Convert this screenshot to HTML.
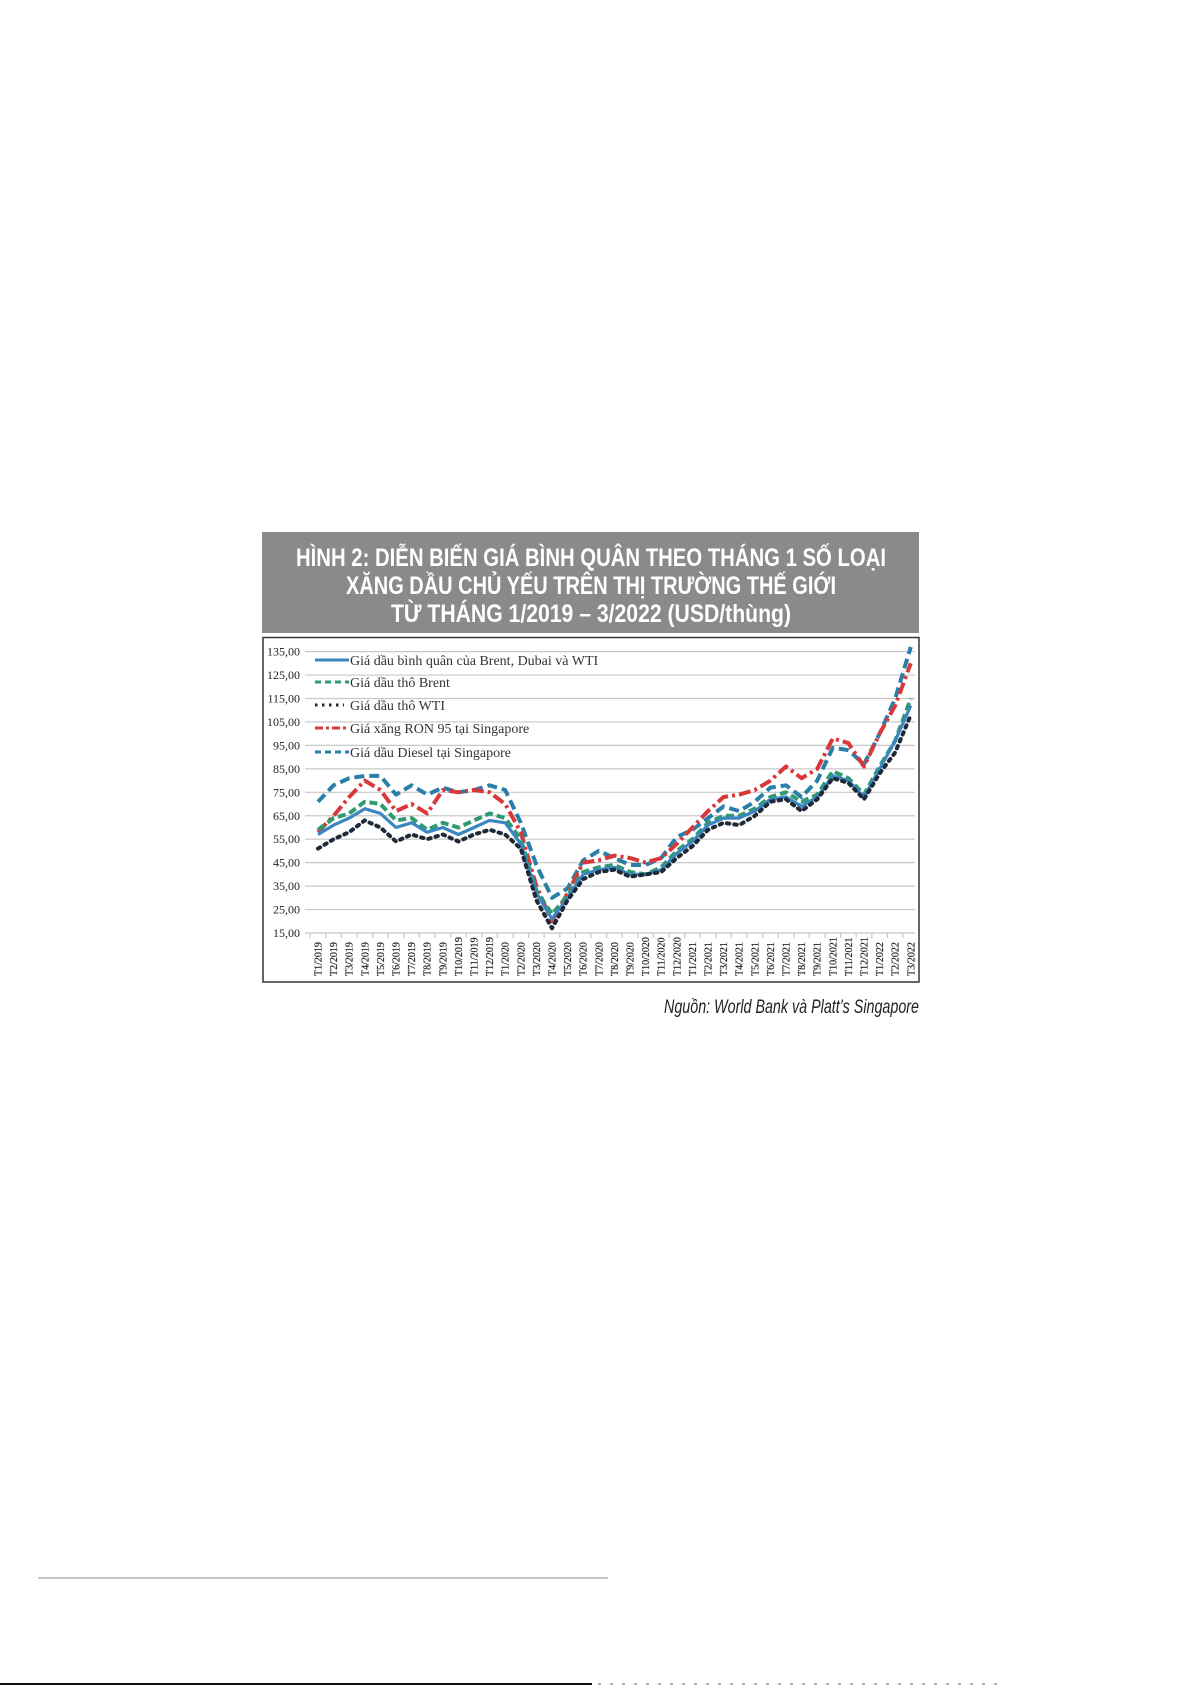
<!DOCTYPE html>
<html><head><meta charset="utf-8"><style>
html,body{margin:0;padding:0;background:#fff;}
body{width:1191px;height:1685px;position:relative;overflow:hidden;}
svg{position:absolute;left:0;top:0;}
</style></head><body>
<svg id="s" width="1191" height="1685" viewBox="0 0 1191 1685" xmlns="http://www.w3.org/2000/svg">
<rect x="262" y="532" width="657" height="101" fill="#8a8a8a"/>
<g font-family="'Liberation Sans Narrow','Liberation Sans',sans-serif" font-weight="bold" font-size="25" fill="#fff" text-anchor="middle">
<text x="591" y="566" textLength="590" lengthAdjust="spacingAndGlyphs">HÌNH 2: DIỄN BIẾN GIÁ BÌNH QUÂN THEO THÁNG 1 SỐ LOẠI</text>
<text x="591" y="594" textLength="490" lengthAdjust="spacingAndGlyphs">XĂNG DẦU CHỦ YẾU TRÊN THỊ TRƯỜNG THẾ GIỚI</text>
<text x="591" y="622" textLength="400" lengthAdjust="spacingAndGlyphs">TỪ THÁNG 1/2019 – 3/2022 (USD/thùng)</text>
</g>
<rect x="263" y="637.5" width="656" height="344.5" fill="#fff" stroke="#333" stroke-width="1.5"/>
<g id="grid" stroke="#c8c8c8" stroke-width="1.2"></g>
<g id="ylab" font-family="'Liberation Serif',serif" font-size="12" fill="#222" text-anchor="end"></g>
<g id="xlab" font-family="'Liberation Serif',serif" font-size="10" fill="#222" stroke="#222" stroke-width="0.2"></g>
<g id="series" fill="none"></g>
<g font-family="'Liberation Serif',serif" font-size="14" fill="#333">
<line x1="315" y1="660" x2="349" y2="660" stroke="#3a86c0" stroke-width="3"/>
<text x="350" y="665">Giá dầu bình quân của  Brent, Dubai và WTI</text>
<line x1="315" y1="682" x2="349" y2="682" stroke="#2e9a6e" stroke-width="3" stroke-dasharray="6,4"/>
<text x="350" y="687">Giá dầu thô Brent</text>
<line x1="315" y1="705" x2="344" y2="705" stroke="#1f2a38" stroke-width="3" stroke-dasharray="2.5,4.5"/>
<text x="350" y="710">Giá dầu thô WTI</text>
<line x1="315" y1="728" x2="349" y2="728" stroke="#d8383a" stroke-width="3" stroke-dasharray="8,3,3,3"/>
<text x="350" y="733">Giá xăng RON 95 tại Singapore</text>
<line x1="315" y1="752" x2="349" y2="752" stroke="#2a7fa8" stroke-width="3" stroke-dasharray="6,4"/>
<text x="350" y="757">Giá dầu Diesel tại Singapore</text>
</g>
<text x="919" y="1013" text-anchor="end" font-family="'Liberation Sans Narrow','Liberation Sans',sans-serif" font-style="italic" font-size="19" fill="#222" textLength="255" lengthAdjust="spacingAndGlyphs">Nguồn: World Bank và Platt’s Singapore</text>
<line x1="38" y1="1578" x2="608" y2="1578" stroke="#888" stroke-width="1"/>
<line x1="0" y1="1684" x2="592" y2="1684" stroke="#111" stroke-width="2"/>
<line x1="598" y1="1684" x2="1000" y2="1684" stroke="#999" stroke-width="1.5" stroke-dasharray="3,9"/>
</svg>
<script>
var NS="http://www.w3.org/2000/svg";
function el(t,a,p,txt){var e=document.createElementNS(NS,t);for(var k in a)e.setAttribute(k,a[k]);if(txt)e.textContent=txt;document.getElementById(p).appendChild(e);return e;}
function Y(v){return 933-(v-15)*2.345;}
function X(i){return 318+i*15.6;}
for(var v=15;v<=135;v+=10){var y=Y(v);el("line",{x1:305,y1:y,x2:915,y2:y},"grid");el("text",{x:300,y:y+4},"ylab",v+",00");}
var L=[];var mo=["T1","T2","T3","T4","T5","T6","T7","T8","T9","T10","T11","T12"];
for(var yr=2019;yr<=2021;yr++)for(var m=0;m<12;m++)L.push(mo[m]+"/"+yr);
L.push("T1/2022","T2/2022","T3/2022");
for(var i=0;i<39;i++){var x=X(i);el("line",{x1:x-7.8,y1:933,x2:x-7.8,y2:938},"grid");
el("text",{x:0,y:0,transform:"translate("+(x+3.5)+",976) rotate(-90)"},"xlab",L[i]);}
var D={
avg:[57,61,64,68,66,60,62,58,60,57,60,63,62,53,32,21,30,40,42,43,40,40,42,49,54,61,64,64,67,72,73,69,73,82,80,73,85,97,112],
brent:[59,64,66,71,70,63,64,59,62,60,63,66,64,55,33,23,31,41,43,44,41,40,43,50,55,62,65,65,68,73,75,71,74,84,81,74,86,97,115],
wti:[51,55,58,63,60,54,57,55,57,54,57,59,57,51,29,17,29,38,41,42,39,40,41,47,52,59,62,61,65,71,72,67,72,81,79,72,83,92,108],
ron:[58,65,73,80,76,67,70,66,76,75,76,75,70,58,35,20,32,45,46,48,47,45,47,53,60,67,73,74,76,80,86,81,85,98,96,86,100,112,130],
dsl:[71,78,81,82,82,74,78,74,77,75,76,78,76,62,44,30,34,46,50,47,44,44,47,56,59,64,69,67,71,77,78,73,80,94,93,87,100,115,137]};
function pl(d,a){var p=d.map(function(v,i){return X(i).toFixed(1)+","+Y(v).toFixed(1)}).join(" ");a.points=p;a["stroke-linejoin"]="round";el("polyline",a,"series");}
pl(D.dsl,{stroke:"#2a7fa8","stroke-width":4,"stroke-dasharray":"10,5"});
pl(D.ron,{stroke:"#d8383a","stroke-width":4,"stroke-dasharray":"12,4,3,4"});
pl(D.brent,{stroke:"#2e9a6e","stroke-width":4,"stroke-dasharray":"8,4"});
pl(D.avg,{stroke:"#3a86c0","stroke-width":3.2});
pl(D.wti,{stroke:"#1f2a38","stroke-width":4,"stroke-dasharray":"2.5,5","stroke-linecap":"round"});
</script>
</body></html>
